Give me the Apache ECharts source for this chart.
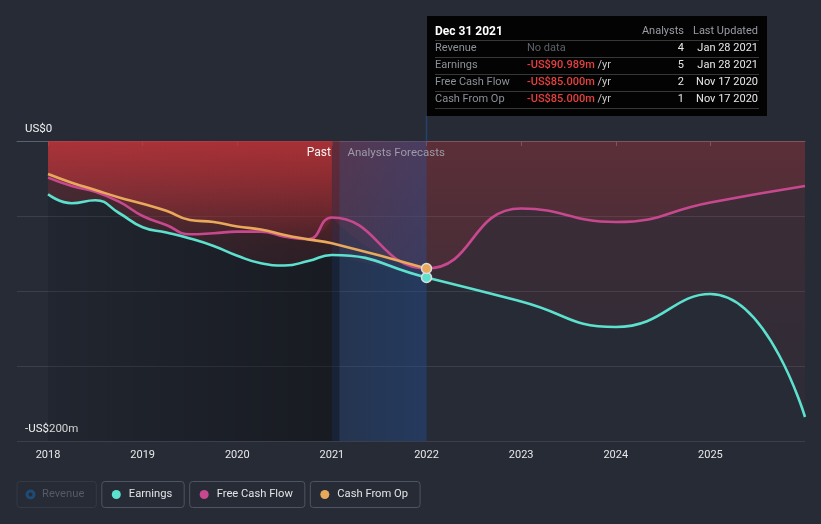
<!DOCTYPE html>
<html><head><meta charset="utf-8">
<script src="https://cdn.jsdelivr.net/npm/echarts@6/dist/echarts.min.js"></script>
<style>html,body{margin:0;padding:0;background:#262b36;}#c{width:821px;height:524px;}</style>
</head><body><div id="c"></div>
<script>
// ---- data ----
const pastYears = [2018.0, 2018.25, 2018.5, 2018.75, 2019.0, 2019.25, 2019.5, 2019.75, 2020.0, 2020.25, 2020.5, 2020.75, 2021.0];
const pastEarnings = [-35.5, -41.5, -39.5, -48, -57.5, -61, -65, -70, -76.5, -81.5, -83, -80, -76];
const pastFreeCashFlow = [-24.4, -30, -33.8, -40.4, -50, -56, -62.2, -61.5, -60.4, -60.4, -63.8, -65.5, -51];
const pastCashFromOp = [-22, -27.8, -32.7, -37.6, -41.8, -46.5, -52.7, -54, -57, -59, -62.7, -65.6, -68.2];
const forecastYears = [2021.0, 2022, 2023, 2024, 2025, 2026];
const forecastEarnings = [-76, -90.989, -107, -124, -102, -184];
const forecastFreeCashFlow = [-51, -85, -45, -54, -41, -30];
const forecastCFOYears = [2021.0, 2022];
const forecastCashFromOp = [-68.2, -85];
const xTickYears = [2018, 2019, 2020, 2021, 2022, 2023, 2024, 2025];
const yTickValues = [0, -200];
const yTickLabels = ['US$0', '-US$200m'];
const lastReported = 2021.0;
const forecastStart = 2021.08;
const tooltipYear = 2022;
const legendNames = ['Revenue', 'Earnings', 'Free Cash Flow', 'Cash From Op'];
const tooltipTitle = 'Dec 31 2021';
const tooltipRows = ['Revenue', 'Earnings', 'Free Cash Flow', 'Cash From Op'];
const tooltipValues = [null, '-US$90.989m', '-US$85.000m', '-US$85.000m'];
const tooltipAnalysts = ['4', '5', '2', '1'];
const tooltipUpdated = ['Jan 28 2021', 'Jan 28 2021', 'Nov 17 2020', 'Nov 17 2020'];

// ---- styling ----
const COL = { Earnings: '#5de1cf', 'Free Cash Flow': '#c8488f', 'Cash From Op': '#e8a95b', Revenue: '#1f4a75' };
const FONT = 'Roboto, "Noto Sans", sans-serif';
const zip = (xs, ys) => xs.map((x, i) => [x, ys[i]]);
const red = a => `rgba(215,55,60,${a})`;
const grad = (a0, a1) => new echarts.graphic.LinearGradient(0, 0, 0, 1, [{offset: 0, color: red(a0)}, {offset: 1, color: red(a1)}]);

function fill(name, pts, a0, a1) {
  return { type: 'line', name: name + ' fill', data: pts, smooth: 0.5, symbol: 'none', silent: true, z: 2,
    lineStyle: { width: 0, opacity: 0 }, areaStyle: { color: grad(a0, a1), origin: 'auto', opacity: 1 }, tooltip: { show: false } };
}
function line(name, pts, marker) {
  return { type: 'line', name, smooth: 0.5, z: 4, silent: true, showSymbol: true, showAllSymbol: true,
    lineStyle: { width: 2.6, color: COL[name] }, itemStyle: { color: COL[name] },
    data: pts.map(p => (marker && p[0] === tooltipYear)
      ? { value: p, symbol: 'circle', symbolSize: 10, itemStyle: { color: COL[name], borderColor: '#dcdcdc', borderWidth: 1.5 } }
      : { value: p, symbol: 'none' }) };
}

const pE = zip(pastYears, pastEarnings), pF = zip(pastYears, pastFreeCashFlow), pC = zip(pastYears, pastCashFromOp);
const fE = zip(forecastYears, forecastEarnings), fF = zip(forecastYears, forecastFreeCashFlow), fC = zip(forecastCFOYears, forecastCashFromOp);
const allE = pE.concat(fE.slice(1)), allF = pF.concat(fF.slice(1)), allC = pC.concat(fC.slice(1));

const chart = echarts.init(document.getElementById('c'), null, { renderer: 'canvas' });
const richDots = {
  r: { width: 7, height: 7, borderRadius: 4, borderColor: COL.Revenue, borderWidth: 1.5, backgroundColor: 'transparent', verticalAlign: 'middle' },
  e: { width: 9, height: 9, borderRadius: 4.5, backgroundColor: COL.Earnings, verticalAlign: 'middle' },
  f: { width: 9, height: 9, borderRadius: 4.5, backgroundColor: COL['Free Cash Flow'], verticalAlign: 'middle' },
  c: { width: 9, height: 9, borderRadius: 4.5, backgroundColor: COL['Cash From Op'], verticalAlign: 'middle' },
  g: { width: 8 },
  t: { fontSize: 11.2, fontFamily: FONT, lineHeight: 14, verticalAlign: 'middle' }
};
const dotKey = { 'Revenue': 'r', 'Earnings': 'e', 'Free Cash Flow': 'f', 'Cash From Op': 'c' };

chart.setOption({
  backgroundColor: '#262b36',
  animation: false,
  textStyle: { fontFamily: FONT },
  grid: { left: 17, right: 16, top: 141, bottom: 83, containLabel: false },
  xAxis: {
    type: 'value', min: 2017.672, max: 2026,
    axisLine: { lineStyle: { color: '#5b616c', width: 1 } },
    axisTick: { customValues: xTickYears, length: 5, lineStyle: { color: '#5b616c' } },
    axisLabel: { customValues: xTickYears, formatter: v => String(Math.round(v)), color: '#e8e8e8', fontSize: 11, margin: 9, fontFamily: FONT },
    splitLine: { show: false }
  },
  yAxis: {
    type: 'value', min: -200, max: 0, interval: 50,
    axisLine: { show: false }, axisTick: { show: false },
    splitLine: { lineStyle: { color: '#3a404b', width: 1 } },
    axisLabel: { inside: true, customValues: yTickValues, formatter: v => yTickLabels[yTickValues.indexOf(v)] || '',
      verticalAlign: 'bottom', lineHeight: 24, color: '#f2f2f2', fontSize: 11.5, margin: 8, fontFamily: FONT }
  },
  legend: {
    left: 7, top: 476, itemGap: 0, itemWidth: 0, itemHeight: 0, icon: 'rect', itemStyle: { opacity: 0 }, lineStyle: { opacity: 0 },
    selectedMode: false,
    data: legendNames.map(n => n === 'Revenue'
      ? { name: n, textStyle: { color: '#555b66', borderColor: '#343944' } }
      : { name: n }),
    formatter: n => `{${dotKey[n]}|}{g|}{t|${n}}`,
    textStyle: { color: '#e3e3e3', fontSize: 11.2, fontFamily: FONT, borderColor: '#4e5461', borderWidth: 1, borderRadius: 3,
      padding: [6, 12, 6, 10], rich: richDots }
  },
  series: [
    { type: 'line', name: 'Revenue', data: [], symbol: 'none', lineStyle: { color: COL.Revenue } },
    // background bands
    { type: 'line', name: 'pastBand', data: [], silent: true,
      markArea: { z: 1, silent: true, data: [
        [{ xAxis: pastYears[0], itemStyle: { color: new echarts.graphic.LinearGradient(0, 0, 1, 0, [{offset: 0, color: 'rgba(0,0,0,0.12)'}, {offset: 1, color: 'rgba(0,0,0,0.38)'}]) } }, { xAxis: lastReported }],
        [{ xAxis: lastReported, itemStyle: { color: 'rgba(12,28,58,0.5)' } }, { xAxis: forecastStart }]
      ] } },
    // fills
    fill('Earnings past', pE, 0.28, 0.1),
    fill('Free Cash Flow past', pF, 0.41, 0.06),
    fill('Cash From Op past', pC, 0.41, 0.08),
    fill('Earnings forecast', fE, 0.15, 0.04),
    fill('Free Cash Flow forecast', fF, 0.18, 0.10),
    fill('Cash From Op forecast', fC, 0.12, 0.06),
    { type: 'line', name: 'forecastBand', data: [], silent: true,
      markArea: { z: 3, silent: true, data: [
        [{ xAxis: forecastStart, itemStyle: { color: new echarts.graphic.LinearGradient(0, 0, 1, 0, [{offset: 0, color: 'rgba(35,75,140,0.30)'}, {offset: 1, color: 'rgba(35,75,140,0.47)'}]) } }, { xAxis: tooltipYear }]
      ] } },
    // lines (past + forecast joined)
    line('Free Cash Flow', allF, false),
    line('Earnings', allE, true),
    line('Cash From Op', allC, true)
  ]
});

// ---- annotations (hover tooltip box and region labels) ----
const px = v => chart.convertToPixel({ gridIndex: 0 }, [v, 0]);
const xHover = px(tooltipYear)[0];
const xPast = px(lastReported)[0];
const xFc = px(forecastStart)[0];
const tipEls = [];
const bx = 427, by = 16, bw = 340, bh = 100, rowY0 = 48.3, rowDy = 17;
tipEls.push({ type: 'rect', shape: { x: bx, y: by, width: bw, height: bh }, style: { fill: '#030303' } });
tipEls.push({ type: 'text', x: 435, y: 31.5, style: { text: tooltipTitle, fill: '#ffffff', font: `bold 12px ${FONT}`, verticalAlign: 'middle' } });
tipEls.push({ type: 'text', x: 684, y: 31.5, style: { text: 'Analysts', fill: '#9a9ca4', font: `11px ${FONT}`, align: 'right', verticalAlign: 'middle' } });
tipEls.push({ type: 'text', x: 758, y: 31.5, style: { text: 'Last Updated', fill: '#9a9ca4', font: `11px ${FONT}`, align: 'right', verticalAlign: 'middle' } });
for (let i = 0; i <= tooltipRows.length; i++) {
  const ly = Math.round(rowY0 - 8.3 + i * rowDy) + 0.5;
  tipEls.push({ type: 'line', shape: { x1: 435, y1: ly, x2: 759, y2: ly }, style: { stroke: '#373737', lineWidth: 1 } });
}
tooltipRows.forEach((r, i) => {
  const y = rowY0 + i * rowDy;
  tipEls.push({ type: 'text', x: 435, y, style: { text: r, fill: '#8c9098', font: `11px ${FONT}`, verticalAlign: 'middle' } });
  if (tooltipValues[i] === null) {
    tipEls.push({ type: 'text', x: 527, y, style: { text: 'No data', fill: '#5d6169', font: `11px ${FONT}`, verticalAlign: 'middle' } });
  } else {
    tipEls.push({ type: 'text', x: 527, y, style: { text: `{v|${tooltipValues[i]}}{u| /yr}`, verticalAlign: 'middle',
      rich: { v: { fill: '#e8403f', font: `500 11px ${FONT}` }, u: { fill: '#c9c9c9', font: `11px ${FONT}` } } } });
  }
  tipEls.push({ type: 'text', x: 684, y, style: { text: tooltipAnalysts[i], fill: '#e8e8e8', font: `11px ${FONT}`, align: 'right', verticalAlign: 'middle' } });
  tipEls.push({ type: 'text', x: 758, y, style: { text: tooltipUpdated[i], fill: '#e8e8e8', font: `11px ${FONT}`, align: 'right', verticalAlign: 'middle' } });
});
chart.setOption({
  graphic: [
    { type: 'line', z: 5, shape: { x1: xHover, y1: by + bh, x2: xHover, y2: 141 }, style: { stroke: '#24426e', lineWidth: 1.5 } },
    { type: 'group', z: 10, children: tipEls },
    { type: 'text', z: 10, x: xPast - 1, y: 153, style: { text: 'Past', fill: '#f4f4f4', font: `12px ${FONT}`, align: 'right', verticalAlign: 'middle' } },
    { type: 'text', z: 10, x: xFc + 8, y: 153, style: { text: 'Analysts Forecasts', fill: '#9e9aa8', font: `11.5px ${FONT}`, align: 'left', verticalAlign: 'middle' } }
  ]
});
</script></body></html>
